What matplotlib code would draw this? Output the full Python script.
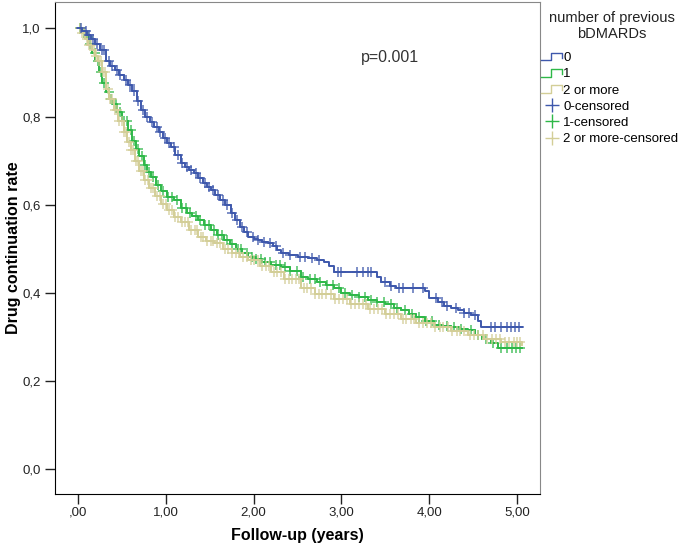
import numpy as np
import matplotlib
matplotlib.use("Agg")
import matplotlib.pyplot as plt
from matplotlib.lines import Line2D
from matplotlib.legend_handler import HandlerBase

plt.rcParams['font.family'] = ['Liberation Sans', 'DejaVu Sans']

# ── Données (Kaplan-Meier, paliers) ─────────────────────────────────────────
blue_t = [0.00, 0.05, 0.10, 0.15, 0.20, 0.25, 0.32, 0.37, 0.42, 0.47, 0.52, 0.57, 0.62, 0.67,
          0.72, 0.77, 0.82, 0.87, 0.92, 0.97, 1.02, 1.06, 1.11, 1.17, 1.22, 1.27, 1.32, 1.37,
          1.42, 1.47, 1.51, 1.56, 1.62, 1.67, 1.74, 1.79, 1.84, 1.89, 1.94, 2.00, 2.05, 2.10,
          2.16, 2.22, 2.27, 2.31, 2.40, 2.50, 2.62, 2.72, 2.80, 2.86, 2.92, 3.40, 3.45, 3.55,
          3.62, 3.95, 4.00, 4.10, 4.17, 4.25, 4.33, 4.40, 4.48, 4.55, 4.59, 5.05]
blue_s = [1.00, 0.995, 0.985, 0.975, 0.965, 0.95, 0.927, 0.915, 0.905, 0.895, 0.882, 0.872, 0.858, 0.835,
          0.814, 0.80, 0.788, 0.776, 0.765, 0.752, 0.74, 0.73, 0.712, 0.694, 0.685, 0.678, 0.671, 0.66,
          0.65, 0.64, 0.633, 0.622, 0.61, 0.598, 0.58, 0.565, 0.55, 0.538, 0.526, 0.522, 0.52, 0.515,
          0.512, 0.505, 0.498, 0.49, 0.486, 0.482, 0.478, 0.474, 0.47, 0.46, 0.447, 0.435, 0.424, 0.415,
          0.41, 0.405, 0.388, 0.38, 0.37, 0.365, 0.36, 0.355, 0.35, 0.335, 0.322, 0.322]

green_t = [0.00, 0.04, 0.08, 0.12, 0.16, 0.20, 0.24, 0.28, 0.32, 0.36, 0.40, 0.45, 0.50, 0.57,
           0.62, 0.66, 0.70, 0.75, 0.79, 0.83, 0.89, 0.95, 1.02, 1.09, 1.17, 1.24, 1.30, 1.37,
           1.44, 1.51, 1.58, 1.66, 1.73, 1.80, 1.87, 1.94, 2.02, 2.10, 2.20, 2.31, 2.42, 2.54,
           2.62, 2.72, 2.82, 2.92, 3.00, 3.10, 3.20, 3.30, 3.40, 3.50, 3.60, 3.68, 3.77, 3.85,
           3.95, 4.05, 4.15, 4.25, 4.35, 4.44, 4.52, 4.60, 4.70, 4.78, 5.05]
green_s = [1.00, 0.99, 0.98, 0.965, 0.945, 0.925, 0.90, 0.875, 0.855, 0.84, 0.828, 0.81, 0.79, 0.769,
           0.745, 0.727, 0.71, 0.69, 0.675, 0.662, 0.645, 0.63, 0.618, 0.61, 0.592, 0.582, 0.575, 0.565,
           0.553, 0.542, 0.53, 0.519, 0.51, 0.50, 0.49, 0.481, 0.476, 0.47, 0.464, 0.458, 0.45, 0.435,
           0.432, 0.425, 0.418, 0.41, 0.40, 0.395, 0.39, 0.383, 0.38, 0.375, 0.366, 0.36, 0.352, 0.345,
           0.336, 0.327, 0.325, 0.322, 0.318, 0.315, 0.305, 0.295, 0.285, 0.274, 0.274]

tan_t = [0.00, 0.04, 0.08, 0.12, 0.16, 0.20, 0.23, 0.27, 0.32, 0.36, 0.41, 0.46, 0.52, 0.56,
         0.60, 0.65, 0.70, 0.75, 0.81, 0.88, 0.95, 1.02, 1.09, 1.17, 1.27, 1.37, 1.46, 1.55,
         1.65, 1.75, 1.85, 1.94, 2.07, 2.20, 2.35, 2.54, 2.70, 2.92, 3.10, 3.30, 3.50, 3.68,
         3.85, 4.05, 4.25, 4.44, 4.62, 4.82, 5.05]
tan_s = [1.00, 0.99, 0.975, 0.962, 0.95, 0.937, 0.927, 0.90, 0.862, 0.84, 0.814, 0.79, 0.765, 0.742,
         0.723, 0.70, 0.677, 0.655, 0.638, 0.62, 0.602, 0.587, 0.573, 0.56, 0.543, 0.526, 0.518, 0.512,
         0.50, 0.49, 0.481, 0.474, 0.46, 0.448, 0.432, 0.41, 0.398, 0.385, 0.374, 0.362, 0.351, 0.34,
         0.332, 0.322, 0.313, 0.304, 0.295, 0.287, 0.282]

# temps de censure (approximatifs)
blue_cens = [0.04, 0.09, 0.13, 0.17, 0.22, 0.27, 0.30, 0.35, 0.39, 0.44, 0.48, 0.55, 0.59, 0.64,
             0.69, 0.74, 0.79, 0.84, 0.90, 0.94, 0.99, 1.04, 1.09, 1.14, 1.19, 1.24, 1.29, 1.34,
             1.39, 1.45, 1.49, 1.54, 1.59, 1.65, 1.70, 1.76, 1.81, 1.87, 1.92, 1.99, 2.05, 2.12,
             2.19, 2.25, 2.34, 2.42, 2.53, 2.58, 2.66, 2.74, 2.96, 3.00, 3.18, 3.24, 3.30, 3.34,
             3.50, 3.56, 3.66, 3.70, 3.82, 3.93, 4.08, 4.14, 4.20, 4.30, 4.40, 4.45, 4.52, 4.70,
             4.75, 4.82, 4.88, 4.93, 4.98, 5.02]
green_cens = [0.03, 0.07, 0.11, 0.14, 0.19, 0.23, 0.26, 0.30, 0.35, 0.38, 0.43, 0.48, 0.52, 0.56,
              0.60, 0.64, 0.68, 0.73, 0.77, 0.81, 0.86, 0.91, 0.97, 1.03, 1.07, 1.13, 1.19, 1.23,
              1.28, 1.34, 1.39, 1.45, 1.49, 1.55, 1.60, 1.64, 1.70, 1.76, 1.82, 1.86, 1.92, 1.98,
              2.03, 2.08, 2.13, 2.19, 2.25, 2.30, 2.36, 2.42, 2.49, 2.56, 2.64, 2.70, 2.76, 2.84,
              2.90, 2.97, 3.04, 3.12, 3.20, 3.27, 3.34, 3.41, 3.48, 3.56, 3.63, 3.72, 3.80, 3.88,
              3.96, 4.03, 4.11, 4.20, 4.28, 4.36, 4.47, 4.56, 4.65, 4.73, 4.82, 4.88, 4.94, 4.99, 5.03]
tan_cens = [0.02, 0.05, 0.07, 0.10, 0.13, 0.15, 0.18, 0.21, 0.24, 0.26, 0.29, 0.31, 0.34, 0.37,
            0.39, 0.42, 0.44, 0.47, 0.50, 0.53, 0.55, 0.58, 0.61, 0.63, 0.66, 0.69, 0.72, 0.74,
            0.77, 0.80, 0.83, 0.86, 0.90, 0.93, 0.97, 1.00, 1.04, 1.07, 1.11, 1.14, 1.19, 1.22,
            1.25, 1.29, 1.33, 1.36, 1.40, 1.43, 1.47, 1.51, 1.54, 1.58, 1.62, 1.67, 1.71, 1.76,
            1.80, 1.83, 1.88, 1.92, 1.97, 2.01, 2.05, 2.10, 2.14, 2.18, 2.23, 2.27, 2.31, 2.36,
            2.40, 2.44, 2.48, 2.52, 2.57, 2.61, 2.65, 2.70, 2.74, 2.78, 2.83, 2.88, 2.93, 2.97,
            3.02, 3.06, 3.11, 3.15, 3.20, 3.24, 3.28, 3.33, 3.37, 3.42, 3.46, 3.51, 3.55, 3.60,
            3.64, 3.70, 3.74, 3.79, 3.83, 3.88, 3.93, 3.97, 4.02, 4.07, 4.12, 4.16, 4.21, 4.26,
            4.31, 4.35, 4.40, 4.46, 4.51, 4.56, 4.61, 4.66, 4.71, 4.76, 4.81, 4.86, 4.91, 4.96,
            5.00, 5.03]

groups = ["0", "1", "2 or more"]
colors = ["#3E58AC", "#2EB848", "#D3CE97"]

x_ticks = [0, 1, 2, 3, 4, 5]
x_labels = [",00", "1,00", "2,00", "3,00", "4,00", "5,00"]
y_ticks = [0.0, 0.2, 0.4, 0.6, 0.8, 1.0]
y_labels = ["0,0", "0,2", "0,4", "0,6", "0,8", "1,0"]


def step_value(t, s, c):
    idx = np.searchsorted(t, c, side='right') - 1
    return np.asarray(s)[idx]


class StepHandler(HandlerBase):
    # petite icône en escalier comme dans SPSS
    def create_artists(self, legend, orig, xd, yd, w, h, fs, trans):
        x = [xd, xd + w * 0.45, xd + w * 0.45, xd + w, xd + w]
        y = [yd + h * 0.1, yd + h * 0.1, yd + h * 0.9, yd + h * 0.9, yd + h * 0.4]
        ln = Line2D(x, y, color=orig.get_color(), lw=1.0, transform=trans)
        return [ln]


fig = plt.figure(figsize=(6.85, 5.5), dpi=100)
ax = fig.add_axes([55 / 685, 56 / 550, 485 / 685, 492 / 550])

data = [(blue_t, blue_s, blue_cens), (green_t, green_s, green_cens), (tan_t, tan_s, tan_cens)]
zorders = [6, 4, 5]
for i in [1, 2, 0]:
    t, s, cens = data[i]
    ax.step(t, s, where='post', color=colors[i], lw=1.4, zorder=zorders[i])
    ax.plot(cens, step_value(t, s, cens), ls='none', marker='+', ms=7.5, mew=1.1,
            color=colors[i], alpha=0.85, zorder=zorders[i])

ax.set_xlim(-0.26, 5.26)
ax.set_ylim(-0.057, 1.06)
ax.set_xticks(x_ticks)
ax.set_xticklabels(x_labels)
ax.set_yticks(y_ticks)
ax.set_yticklabels(y_labels)
ax.tick_params(direction='out', length=7, width=1, labelsize=9.5, colors='#222222')
ax.tick_params(axis='x', pad=2)
ax.spines['top'].set_color('#888888')
ax.spines['right'].set_color('#888888')

ax.set_xlabel("Follow-up (years)", fontsize=11.5, fontweight='bold', labelpad=7)
ax.set_ylabel("Drug continuation rate", fontsize=11.5, fontweight='bold', labelpad=1)

ax.text(3.22, 0.934, "p=0.001", fontsize=11.5, color='#333333', va='center', ha='left')

# ── Légende ────────────────────────────────────────────────────────────────
fig.text(612 / 685, 1 - 26 / 550, "number of previous\nbDMARDs", fontsize=10.5,
         color='#222222', ha='center', va='center', multialignment='center', linespacing=1.2)

handles = [Line2D([], [], color=c) for c in colors]
handles += [Line2D([], [], color=c, ls='none', marker='+', ms=10, mew=1.0) for c in colors]
labels = groups + [g + "-censored" for g in groups]
hmap = {h: StepHandler() for h in handles[:3]}
leg = fig.legend(handles, labels, handler_map=hmap, loc='upper left',
                 bbox_to_anchor=(541 / 685, 1 - 52 / 550), frameon=False,
                 fontsize=9.5, handlelength=1.6, handletextpad=0.1, labelspacing=0.3,
                 borderaxespad=0, borderpad=0.0)

fig.savefig("out.png", dpi=100)
